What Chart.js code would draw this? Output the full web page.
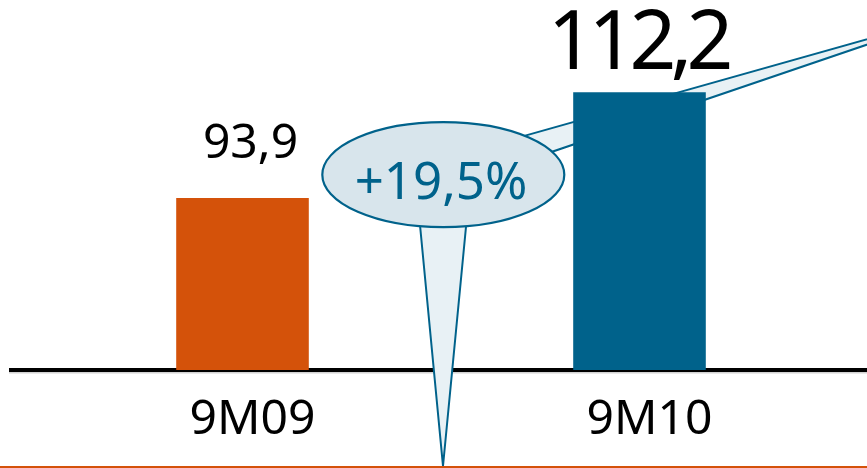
<!DOCTYPE html>
<html lang="de">
<head>
    <meta charset="UTF-8">
    <title>9M09 vs 9M10</title>
    <script src="https://cdn.jsdelivr.net/npm/chart.js"></script>
    <style>
        body { margin: 0; background: #fff; }
    </style>
</head>
<body>
    <canvas id="chart" width="867" height="468"></canvas>

    <script>
        // Daten
        const periods = ['9M09', '9M10'];
        const values = [93.9, 112.2];
        const barColors = ['#D4520A', '#00628B'];

        const BLUE = '#00628B';
        const FONT = '"Noto Sans", "DejaVu Sans", sans-serif';

        function fmt(v) {
            return v.toFixed(1).replace('.', ',');
        }

        // Achse, Sprechblase und Werte
        const deco = {
            id: 'deco',
            beforeDatasetsDraw(chart) {
                const c = chart.ctx;
                const a = chart.chartArea;
                c.save();
                // Grundlinie
                c.fillStyle = '#000';
                c.fillRect(9, a.bottom - 2, chart.width - 9, 4);
                c.fillStyle = '#d2d2d2';
                c.fillRect(9, a.bottom + 2, chart.width - 9, 1.5);

                // Keil nach oben rechts
                c.fillStyle = '#E8F1F5';
                c.strokeStyle = BLUE;
                c.lineWidth = 2;
                c.beginPath();
                c.moveTo(480, 148.4);
                c.lineTo(960, 13);
                c.lineTo(480, 176.3);
                c.closePath();
                c.fill();
                c.stroke();

                // Spitze nach unten
                c.beginPath();
                c.moveTo(415.7, 180);
                c.lineTo(443, 466);
                c.lineTo(470.5, 180);
                c.closePath();
                c.fill();
                c.stroke();

                // orange Linie unten
                c.fillStyle = '#D4520A';
                c.fillRect(0, 466, chart.width, 2);
                c.restore();
            },
            afterDatasetsDraw(chart) {
                const c = chart.ctx;
                const bars = chart.getDatasetMeta(0).data;
                c.save();

                // Ellipse
                c.beginPath();
                c.ellipse(443.3, 174.7, 121, 52.5, 0, 0, Math.PI * 2);
                c.fillStyle = '#D8E5EC';
                c.fill();
                c.lineWidth = 2.2;
                c.strokeStyle = BLUE;
                c.stroke();

                const growth = (values[1] / values[0] - 1) * 100;
                c.fillStyle = BLUE;
                c.textAlign = 'center';
                c.textBaseline = 'alphabetic';
                c.font = '51px ' + FONT;
                c.fillText('+' + fmt(growth) + '%', 441, 198.5);

                // Werte über den Balken
                c.fillStyle = '#000';
                c.font = '48px ' + FONT;
                c.fillText(fmt(values[0]), bars[0].x + 8, bars[0].y - 39.5);
                c.font = '82px ' + FONT;
                c.letterSpacing = '-6px';
                c.fillText(fmt(values[1]), bars[1].x - 2, bars[1].y - 23.5);
                c.restore();
            }
        };

        new Chart(document.getElementById('chart'), {
            type: 'bar',
            data: {
                labels: periods,
                datasets: [{
                    data: values,
                    backgroundColor: barColors,
                    borderWidth: 0,
                    barPercentage: 0.334,
                    categoryPercentage: 1
                }]
            },
            options: {
                responsive: false,
                animation: false,
                layout: { padding: { left: 44, right: 29, top: 0, bottom: 0 } },
                plugins: {
                    legend: { display: false },
                    tooltip: { enabled: false }
                },
                scales: {
                    x: {
                        grid: { display: false, drawTicks: false },
                        border: { display: false },
                        ticks: {
                            color: '#000',
                            font: { family: FONT, size: 48 },
                            padding: 22,
                            labelOffset: 10
                        },
                        afterFit(scale) { scale.height = 98; }
                    },
                    y: {
                        display: false,
                        min: 64.12,
                        max: 128.18
                    }
                }
            },
            plugins: [deco]
        });
    </script>
</body>
</html>
